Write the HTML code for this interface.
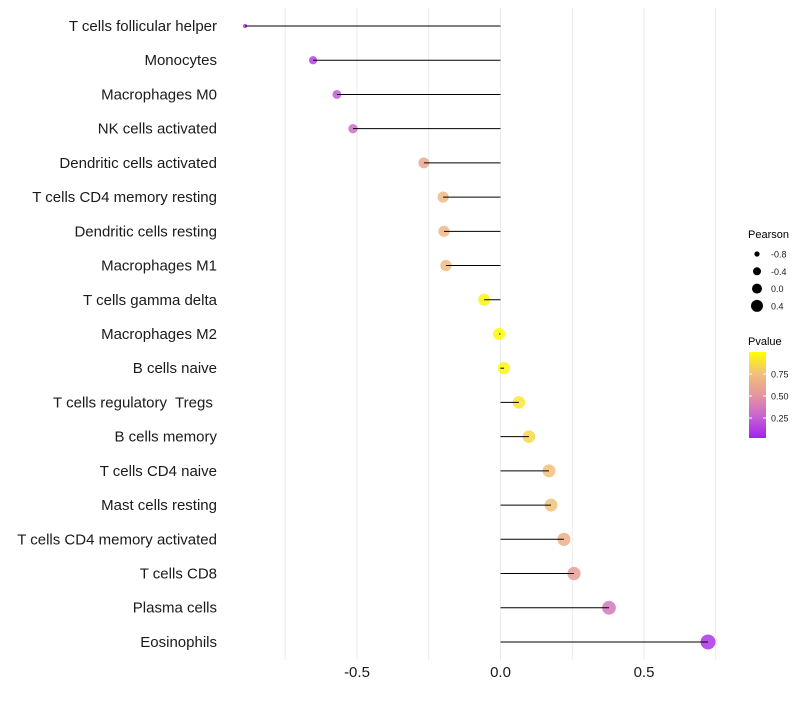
<!DOCTYPE html>
<html><head><meta charset="utf-8"><style>
body{margin:0;background:#fff;}
svg text{font-family:"Liberation Sans",sans-serif;white-space:pre;}
</style></head><body>
<svg id="chart" width="800" height="700" xmlns="http://www.w3.org/2000/svg">
<g id="grid"></g>
<g id="ylabels"></g>
<g id="marks"></g>
<g id="xticks"></g>
<g id="legend"></g>
</svg>
<script>
const categories=["T cells follicular helper","Monocytes","Macrophages M0","NK cells activated","Dendritic cells activated","T cells CD4 memory resting","Dendritic cells resting","Macrophages M1","T cells gamma delta","Macrophages M2","B cells naive","T cells regulatory  Tregs ","B cells memory","T cells CD4 naive","Mast cells resting","T cells CD4 memory activated","T cells CD8","Plasma cells","Eosinophils"];
const pearson=[-0.89,-0.653,-0.57,-0.514,-0.267,-0.2,-0.197,-0.19,-0.057,-0.005,0.012,0.064,0.099,0.169,0.176,0.221,0.256,0.378,0.723];
const pvalues=[0.05,0.12,0.22,0.3,0.6,0.7,0.7,0.72,0.95,0.98,0.97,0.9,0.85,0.75,0.75,0.65,0.55,0.35,0.08];
const xTicks=[-0.5,0,0.5];
const xTickLabels=["-0.5","0.0","0.5"];
const gridVals=[-0.75,-0.5,-0.25,0,0.25,0.5,0.75];
const sizeLegend=[-0.8,-0.4,0.0,0.4];
const sizeLegendLabels=["-0.8","-0.4","0.0","0.4"];
const colorLegend=[0.25,0.5,0.75];
const colorLegendLabels=["0.25","0.50","0.75"];

const NS="http://www.w3.org/2000/svg";
const x=v=>500.5+v*287;
const y=i=>26+i*34.22;
const r=v=>2+5.5*Math.sqrt(Math.max(0,(v+0.89)/1.61));
const stops=[[0,[160,32,240]],[0.25,[200,100,208]],[0.5,[229,150,160]],[0.75,[242,192,122]],[1,[255,255,0]]];
function col(p){for(let k=1;k<stops.length;k++){if(p<=stops[k][0]){const a=stops[k-1],b=stops[k],t=(p-a[0])/(b[0]-a[0]);return "rgb("+a[1].map((c,j)=>Math.round(c+(b[1][j]-c)*t)).join(",")+")";}}return "rgb(255,255,0)";}
function mk(tag,at,parent){const e=document.createElementNS(NS,tag);for(const k in at)e.setAttribute(k,at[k]);parent.appendChild(e);return e;}
const G=id=>document.getElementById(id);
gridVals.forEach(v=>{const l=mk("line",{x1:x(v),x2:x(v),y1:8,y2:660,stroke:"#ebebeb","stroke-width":1},G("grid"));

});
categories.forEach((c,i)=>{const t=mk("text",{x:217,y:y(i)+5,"text-anchor":"end","font-size":15,fill:"#1a1a1a"},G("ylabels"));t.textContent=c;


const d=mk("circle",{cx:x(pearson[i]),cy:y(i),r:r(pearson[i]),fill:col(pvalues[i]),"fill-opacity":0.85},G("marks"));


const l=mk("line",{x1:x(0),x2:x(pearson[i]),y1:y(i),y2:y(i),stroke:"#000","stroke-width":1},G("marks"));

});
xTicks.forEach((v,i)=>{const t=mk("text",{x:x(v),y:677,"text-anchor":"middle","font-size":15,fill:"#1a1a1a"},G("xticks"));t.textContent=xTickLabels[i];

});
const L=G("legend");
let t=mk("text",{x:748,y:238,"font-size":11,fill:"#000"},L);t.textContent="Pearson";


const lr=[2.6,4,5,6];
sizeLegend.forEach((v,i)=>{const cy=254+i*17.3;const c=mk("circle",{cx:757,cy:cy,r:lr[i],fill:"#000"},L);


const tt=mk("text",{x:771,y:cy+3.5,"font-size":9,fill:"#1a1a1a"},L);tt.textContent=sizeLegendLabels[i];

});
t=mk("text",{x:748,y:345,"font-size":11,fill:"#000"},L);t.textContent="Pvalue";


const defs=mk("defs",{},L);const lg=mk("linearGradient",{id:"pg",x1:0,y1:1,x2:0,y2:0},defs);
stops.forEach(s=>mk("stop",{offset:s[0],"stop-color":"rgb("+s[1].join(",")+")"},lg));
const cb=mk("rect",{x:749,y:352,width:17,height:86,fill:"url(#pg)"},L);


const cy=p=>440-p*88;
colorLegend.forEach((p,i)=>{mk("line",{x1:749,x2:752,y1:cy(p),y2:cy(p),stroke:"#fff"},L);mk("line",{x1:763,x2:766,y1:cy(p),y2:cy(p),stroke:"#fff"},L);
const tt=mk("text",{x:771,y:cy(p)+3.5,"font-size":9,fill:"#1a1a1a"},L);tt.textContent=colorLegendLabels[i];

});
</script>
</body></html>
